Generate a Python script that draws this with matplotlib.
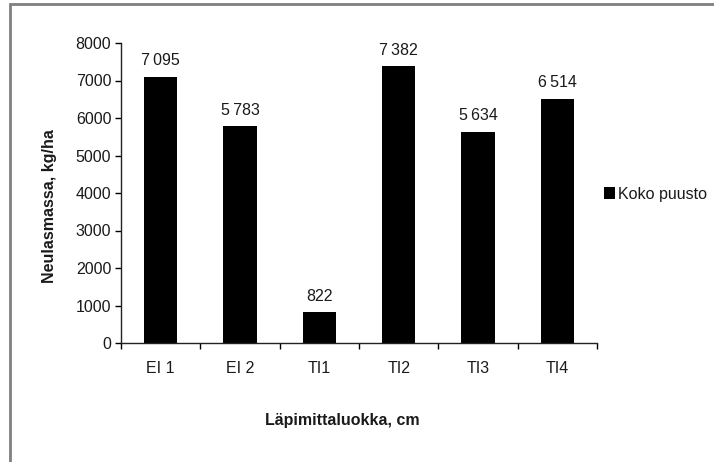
import numpy as np
import matplotlib.pyplot as plt
from matplotlib.patches import Rectangle

categories = ["EI 1", "EI 2", "TI1", "TI2", "TI3", "TI4"]
values = [7095, 5783, 822, 7382, 5634, 6514]
value_labels = ["7\u2009095", "5\u2009783", "822", "7\u2009382", "5\u2009634", "6\u2009514"]
series_name = "Koko puusto"

plt.rcParams['font.family'] = ['Liberation Sans', 'DejaVu Sans']
FS = 11.5
TXT = '#1a1a1a'

W, H = 714, 462
fig = plt.figure(figsize=(W / 100, H / 100), dpi=100)
ax = fig.add_axes([121 / W, 1 - 343 / H, (597 - 121) / W, (343 - 43) / H])

x = np.arange(len(categories))
bars = ax.bar(x, values, width=0.42, color='black', label=series_name)

for xi, v, lab in zip(x, values, value_labels):
    ax.text(xi, v + 230, lab, ha='center', va='bottom', fontsize=FS, color=TXT)

ax.set_xlim(-0.5, len(categories) - 0.5)
ax.set_ylim(0, 8000)
ax.set_yticks(np.arange(0, 8001, 1000))
ax.tick_params(axis='y', labelsize=FS, length=4, width=1, direction='out',
               pad=3, labelcolor=TXT)

ax.set_xticks(x)
ax.set_xticklabels(categories)
ax.set_xticks(np.arange(-0.5, len(categories), 1), minor=True)
ax.tick_params(axis='x', which='major', length=0, labelsize=FS, pad=13,
               labelcolor=TXT)
ax.tick_params(axis='x', which='minor', length=4, width=1, direction='out')

for s in ['top', 'right']:
    ax.spines[s].set_visible(False)
for s in ['left', 'bottom']:
    ax.spines[s].set_color('#222222')
    ax.spines[s].set_linewidth(1)

fig.text(50 / W, 1 - 206 / H, "Neulasmassa, kg/ha", rotation=90, ha='center',
         va='center', fontsize=FS, fontweight='bold', color=TXT)
fig.text(342 / W, 1 - 421 / H, "Läpimittaluokka, cm", ha='center', va='center',
         fontsize=FS, fontweight='bold', color=TXT)

fig.legend(handles=[bars], labels=[series_name], loc='center left',
           bbox_to_anchor=(604 / W, 1 - 194 / H), frameon=False, fontsize=FS,
           handlelength=0.7, handleheight=0.7, handletextpad=0.15, borderaxespad=0,
           borderpad=0, labelcolor=TXT)

fig.patches.append(Rectangle((10 / W, -0.1), 1.2, 1 - 4 / H + 0.1,
                             transform=fig.transFigure, fill=False,
                             edgecolor='#808080', linewidth=2))

fig.savefig("out.png", dpi=100)
